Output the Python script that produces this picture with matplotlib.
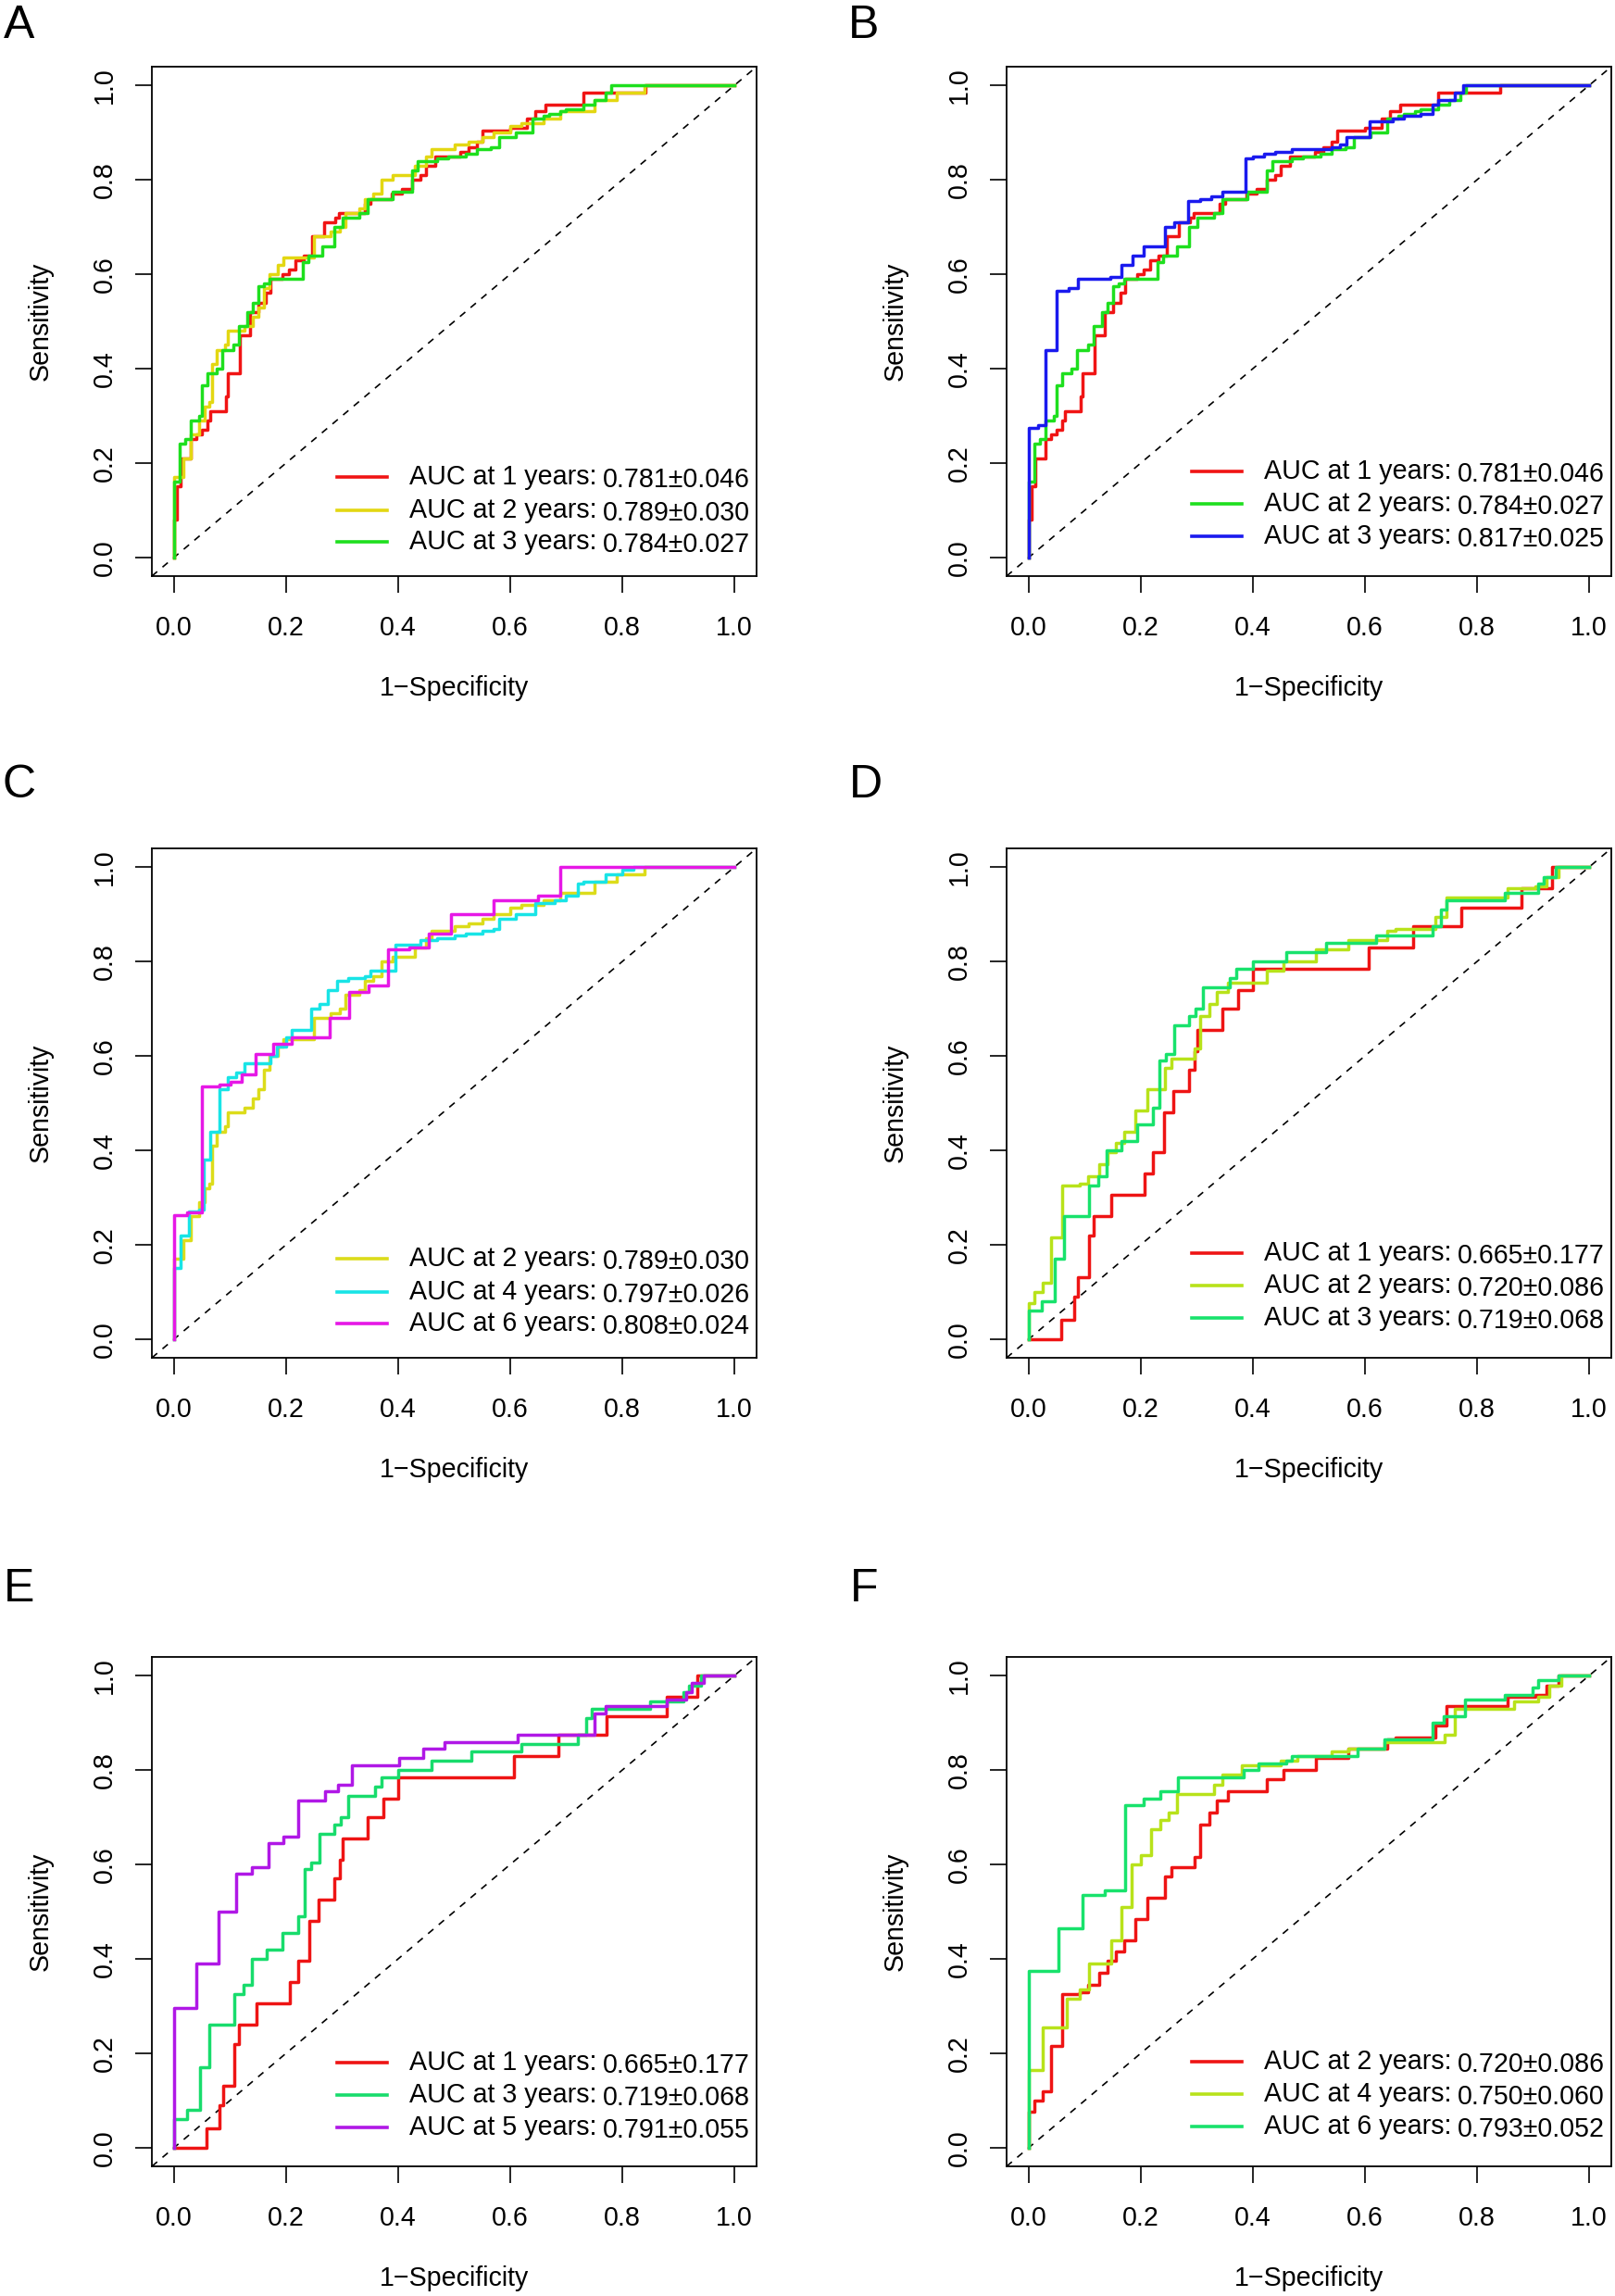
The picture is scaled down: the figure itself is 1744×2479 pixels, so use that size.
import numpy as np
import matplotlib
matplotlib.use('Agg')
import matplotlib.pyplot as plt

plt.rcParams['font.family'] = ['Liberation Sans', 'DejaVu Sans']

# ROC corner points (1-specificity, sensitivity)
roc_1y_781 = [(0, 0), (0, 0.08), (0.005, 0.15), (0.012, 0.21), (0.03, 0.25), (0.04, 0.26), (0.05, 0.27),
              (0.06, 0.29), (0.065, 0.31), (0.092, 0.34), (0.095, 0.39), (0.117, 0.47), (0.136, 0.52),
              (0.15, 0.54), (0.163, 0.56), (0.172, 0.59), (0.194, 0.60), (0.205, 0.61), (0.216, 0.63),
              (0.232, 0.64), (0.246, 0.68), (0.267, 0.71), (0.287, 0.72), (0.294, 0.73), (0.34, 0.75),
              (0.35, 0.76), (0.388, 0.77), (0.406, 0.78), (0.425, 0.80), (0.44, 0.81), (0.45, 0.83),
              (0.466, 0.85), (0.51, 0.86), (0.525, 0.87), (0.54, 0.88), (0.55, 0.905), (0.6, 0.91),
              (0.63, 0.93), (0.645, 0.945), (0.663, 0.96), (0.73, 0.985), (0.842, 1.0), (1.0, 1.0)]
roc_2y_789 = [(0, 0), (0, 0.17), (0.017, 0.21), (0.03, 0.26), (0.045, 0.29), (0.055, 0.32), (0.062, 0.33),
              (0.068, 0.41), (0.076, 0.44), (0.09, 0.45), (0.095, 0.48), (0.125, 0.49), (0.14, 0.51),
              (0.15, 0.53), (0.16, 0.57), (0.17, 0.60), (0.185, 0.62), (0.195, 0.635), (0.25, 0.68),
              (0.28, 0.69), (0.295, 0.70), (0.305, 0.73), (0.33, 0.74), (0.34, 0.76), (0.355, 0.77),
              (0.37, 0.80), (0.39, 0.81), (0.43, 0.83), (0.45, 0.85), (0.46, 0.865), (0.5, 0.875),
              (0.525, 0.88), (0.55, 0.89), (0.57, 0.90), (0.6, 0.915), (0.62, 0.92), (0.66, 0.93),
              (0.69, 0.945), (0.75, 0.97), (0.79, 0.985), (0.84, 1.0), (1.0, 1.0)]
roc_3y_784 = [(0, 0), (0, 0.16), (0.01, 0.24), (0.02, 0.25), (0.03, 0.29), (0.045, 0.30), (0.05, 0.365),
              (0.06, 0.39), (0.075, 0.40), (0.085, 0.44), (0.105, 0.45), (0.115, 0.49), (0.13, 0.52),
              (0.14, 0.54), (0.15, 0.575), (0.16, 0.58), (0.17, 0.59), (0.23, 0.625), (0.24, 0.64),
              (0.265, 0.66), (0.285, 0.70), (0.3, 0.72), (0.33, 0.73), (0.345, 0.76), (0.39, 0.775),
              (0.425, 0.82), (0.435, 0.84), (0.47, 0.845), (0.49, 0.85), (0.52, 0.855), (0.54, 0.865),
              (0.565, 0.87), (0.58, 0.89), (0.61, 0.90), (0.64, 0.93), (0.66, 0.935), (0.67, 0.94),
              (0.69, 0.945), (0.7, 0.95), (0.73, 0.96), (0.75, 0.97), (0.77, 0.985), (0.78, 1.0), (1.0, 1.0)]
roc_3y_817 = [(0, 0), (0, 0.275), (0.016, 0.28), (0.029, 0.44), (0.049, 0.565), (0.07, 0.57), (0.088, 0.59),
              (0.145, 0.595), (0.165, 0.62), (0.185, 0.64), (0.205, 0.66), (0.243, 0.70), (0.26, 0.71),
              (0.284, 0.755), (0.305, 0.76), (0.325, 0.765), (0.345, 0.775), (0.387, 0.845), (0.4, 0.85),
              (0.42, 0.855), (0.44, 0.86), (0.47, 0.865), (0.54, 0.87), (0.555, 0.875), (0.567, 0.89),
              (0.608, 0.925), (0.65, 0.93), (0.67, 0.935), (0.7, 0.94), (0.72, 0.96), (0.73, 0.97),
              (0.76, 0.985), (0.775, 1.0), (1.0, 1.0)]
roc_4y_797 = [(0, 0), (0, 0.15), (0.012, 0.22), (0.026, 0.27), (0.044, 0.275), (0.053, 0.38), (0.065, 0.44),
              (0.081, 0.53), (0.095, 0.555), (0.11, 0.565), (0.125, 0.585), (0.172, 0.60), (0.183, 0.62),
              (0.2, 0.64), (0.21, 0.655), (0.245, 0.70), (0.26, 0.71), (0.275, 0.74), (0.29, 0.76),
              (0.31, 0.765), (0.34, 0.77), (0.35, 0.78), (0.395, 0.835), (0.44, 0.845), (0.47, 0.85),
              (0.5, 0.855), (0.52, 0.86), (0.55, 0.865), (0.57, 0.87), (0.58, 0.89), (0.61, 0.90),
              (0.645, 0.925), (0.68, 0.93), (0.7, 0.94), (0.72, 0.965), (0.73, 0.97), (0.77, 0.985),
              (0.8, 0.995), (0.82, 1.0), (1.0, 1.0)]
roc_6y_808 = [(0, 0), (0, 0.262), (0.023, 0.268), (0.05, 0.535), (0.081, 0.54), (0.1, 0.545), (0.12, 0.56),
              (0.145, 0.605), (0.177, 0.625), (0.209, 0.64), (0.278, 0.68), (0.313, 0.735), (0.347, 0.75),
              (0.381, 0.825), (0.42, 0.83), (0.455, 0.86), (0.494, 0.90), (0.57, 0.93), (0.65, 0.94),
              (0.689, 1.0), (1.0, 1.0)]
roc_1y_665 = [(0, 0), (0.057, 0.04), (0.08, 0.09), (0.088, 0.13), (0.108, 0.22), (0.115, 0.26), (0.147, 0.305),
              (0.206, 0.35), (0.222, 0.395), (0.241, 0.48), (0.258, 0.525), (0.286, 0.57), (0.295, 0.61),
              (0.3, 0.655), (0.345, 0.70), (0.374, 0.74), (0.4, 0.785), (0.606, 0.83), (0.686, 0.875),
              (0.772, 0.915), (0.879, 0.955), (0.934, 1.0), (1.0, 1.0)]
roc_2y_720 = [(0, 0), (0, 0.075), (0.01, 0.10), (0.025, 0.12), (0.04, 0.215), (0.06, 0.325), (0.09, 0.33),
              (0.105, 0.345), (0.125, 0.37), (0.14, 0.395), (0.155, 0.415), (0.17, 0.44), (0.19, 0.485),
              (0.212, 0.53), (0.242, 0.575), (0.255, 0.595), (0.295, 0.615), (0.305, 0.685), (0.322, 0.71),
              (0.335, 0.735), (0.355, 0.755), (0.424, 0.78), (0.455, 0.80), (0.512, 0.825), (0.57, 0.845),
              (0.64, 0.865), (0.655, 0.87), (0.725, 0.895), (0.745, 0.935), (0.855, 0.955), (0.905, 0.96),
              (0.925, 0.98), (0.945, 1.0), (1.0, 1.0)]
roc_3y_719 = [(0, 0), (0, 0.06), (0.023, 0.08), (0.046, 0.17), (0.062, 0.26), (0.108, 0.325), (0.123, 0.345),
              (0.138, 0.40), (0.165, 0.42), (0.194, 0.455), (0.221, 0.49), (0.233, 0.59), (0.245, 0.605),
              (0.26, 0.665), (0.285, 0.685), (0.298, 0.70), (0.31, 0.745), (0.358, 0.765), (0.37, 0.785),
              (0.4, 0.80), (0.46, 0.82), (0.53, 0.84), (0.62, 0.855), (0.72, 0.875), (0.735, 0.91),
              (0.745, 0.93), (0.85, 0.945), (0.91, 0.965), (0.92, 0.98), (0.94, 1.0), (1.0, 1.0)]
roc_5y_791 = [(0, 0), (0, 0.295), (0.04, 0.39), (0.079, 0.50), (0.111, 0.58), (0.139, 0.595), (0.168, 0.645),
              (0.195, 0.66), (0.221, 0.735), (0.269, 0.755), (0.292, 0.77), (0.317, 0.81), (0.402, 0.825),
              (0.445, 0.845), (0.482, 0.86), (0.613, 0.875), (0.75, 0.92), (0.77, 0.935), (0.879, 0.95),
              (0.915, 0.965), (0.925, 0.985), (0.945, 1.0), (1.0, 1.0)]
roc_4y_750 = [(0, 0), (0, 0.165), (0.025, 0.255), (0.067, 0.315), (0.09, 0.335), (0.108, 0.39), (0.147, 0.44),
              (0.165, 0.51), (0.183, 0.60), (0.2, 0.62), (0.218, 0.675), (0.235, 0.695), (0.25, 0.71),
              (0.265, 0.75), (0.33, 0.77), (0.345, 0.79), (0.38, 0.81), (0.45, 0.82), (0.48, 0.83),
              (0.54, 0.84), (0.57, 0.845), (0.635, 0.86), (0.743, 0.875), (0.76, 0.93), (0.867, 0.945),
              (0.91, 0.955), (0.93, 0.98), (0.95, 1.0), (1.0, 1.0)]
roc_6y_793 = [(0, 0), (0, 0.375), (0.052, 0.465), (0.096, 0.535), (0.136, 0.545), (0.172, 0.725), (0.205, 0.74),
              (0.235, 0.755), (0.266, 0.785), (0.383, 0.80), (0.41, 0.815), (0.46, 0.82), (0.47, 0.83),
              (0.587, 0.845), (0.635, 0.865), (0.72, 0.90), (0.74, 0.915), (0.778, 0.95), (0.85, 0.96),
              (0.9, 0.975), (0.91, 0.99), (0.945, 1.0), (1.0, 1.0)]

# legend texts
auc_labels = {
    'A': ['AUC at 1 years:', 'AUC at 2 years:', 'AUC at 3 years:'],
    'B': ['AUC at 1 years:', 'AUC at 2 years:', 'AUC at 3 years:'],
    'C': ['AUC at 2 years:', 'AUC at 4 years:', 'AUC at 6 years:'],
    'D': ['AUC at 1 years:', 'AUC at 2 years:', 'AUC at 3 years:'],
    'E': ['AUC at 1 years:', 'AUC at 3 years:', 'AUC at 5 years:'],
    'F': ['AUC at 2 years:', 'AUC at 4 years:', 'AUC at 6 years:'],
}
auc_values = {
    'A': ['0.781±0.046', '0.789±0.030', '0.784±0.027'],
    'B': ['0.781±0.046', '0.784±0.027', '0.817±0.025'],
    'C': ['0.789±0.030', '0.797±0.026', '0.808±0.024'],
    'D': ['0.665±0.177', '0.720±0.086', '0.719±0.068'],
    'E': ['0.665±0.177', '0.719±0.068', '0.791±0.055'],
    'F': ['0.720±0.086', '0.750±0.060', '0.793±0.052'],
}
panel_curves = {
    'A': [roc_1y_781, roc_2y_789, roc_3y_784],
    'B': [roc_1y_781, roc_3y_784, roc_3y_817],
    'C': [roc_2y_789, roc_4y_797, roc_6y_808],
    'D': [roc_1y_665, roc_2y_720, roc_3y_719],
    'E': [roc_1y_665, roc_3y_719, roc_5y_791],
    'F': [roc_2y_720, roc_4y_750, roc_6y_793],
}
panel_colors = {
    'A': ['#F01414', '#E3D712', '#1EDF1E'],
    'B': ['#F01414', '#1EDF1E', '#1A1AEE'],
    'C': ['#DCDC1A', '#18E4E6', '#E618E6'],
    'D': ['#EE1414', '#B8E21A', '#18E26C'],
    'E': ['#EE1414', '#18DC6C', '#B018E6'],
    'F': ['#EE1414', '#B8E21A', '#18E26C'],
}

W, H = 1744, 2479
BW, BH = 653, 550
# top-left corner of each plot box, in pixels
box_pos = {'A': (164, 72), 'B': (1087, 72), 'C': (164, 916), 'D': (1087, 916),
           'E': (164, 1789), 'F': (1087, 1789)}
letter_pos = {'A': (21, 28), 'B': (933, 28), 'C': (21, 848), 'D': (935, 848),
              'E': (21, 1716), 'F': (933, 1716)}
legend_rows = {'A': [0.17, 0.10, 0.032], 'B': [0.182, 0.113, 0.044], 'C': [0.17, 0.10, 0.032],
               'D': [0.182, 0.113, 0.044], 'E': [0.18, 0.112, 0.043], 'F': [0.182, 0.113, 0.044]}

FS = 20.6
fig = plt.figure(figsize=(W / 100, H / 100), dpi=100)

for key in 'ABCDEF':
    x0, y0 = box_pos[key]
    ax = fig.add_axes([x0 / W, 1 - (y0 + BH) / H, BW / W, BH / H])
    ax.set_xlim(-0.04, 1.04)
    ax.set_ylim(-0.04, 1.04)
    ax.plot([-0.04, 1.04], [-0.04, 1.04], color='black', lw=1.2, ls=(0, (4.5, 4.5)))
    for pts, col in zip(panel_curves[key], panel_colors[key]):
        xs, ys = zip(*pts)
        ax.plot(xs, ys, drawstyle='steps-post', color=col, lw=2.5)

    for lab, val, col, yy in zip(auc_labels[key], auc_values[key], panel_colors[key], legend_rows[key]):
        ax.plot([0.29, 0.38], [yy, yy], color=col, lw=2.6)
        ax.text(0.42, yy, lab, fontsize=FS, va='center', ha='left')
        ax.text(0.765, yy - 0.006, val, fontsize=FS, va='center', ha='left')

    ticks = np.arange(0, 1.01, 0.2)
    ax.set_xticks(ticks)
    ax.set_yticks(ticks)
    ax.set_xticklabels(['%.1f' % t for t in ticks])
    ax.set_yticklabels(['%.1f' % t for t in ticks], rotation=90, va='center')
    ax.tick_params(length=13, width=1.2, labelsize=FS)
    ax.tick_params(axis='x', pad=17)
    ax.tick_params(axis='y', pad=14)
    for sp in ax.spines.values():
        sp.set_linewidth(1.3)

    ax.text(0.5, -0.22, '1\u2212Specificity', transform=ax.transAxes, ha='center', va='center', fontsize=FS)
    ax.text(-0.185, 0.5, 'Sensitivity', transform=ax.transAxes, ha='center', va='center',
            rotation=90, fontsize=FS)

    lx, ly = letter_pos[key]
    fig.text(lx / W, 1 - ly / H, key, fontsize=36, ha='center', va='center')

fig.savefig('out.png', dpi=100)
